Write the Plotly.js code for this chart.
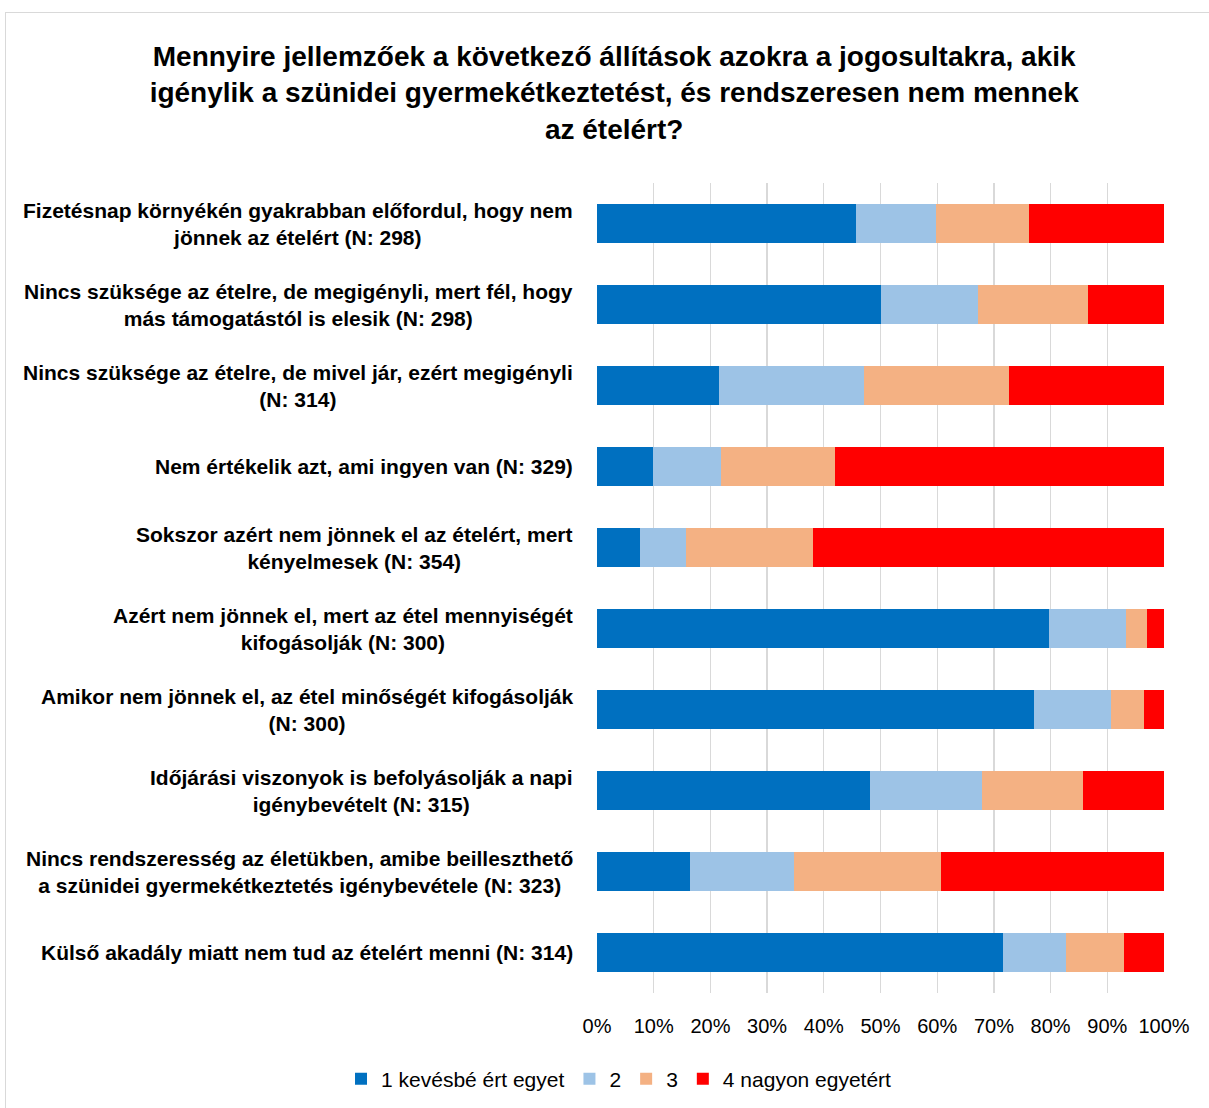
<!DOCTYPE html>
<html>
<head>
<meta charset="utf-8">
<script src="https://cdn.plot.ly/plotly-3.0.1.min.js"></script>
<style>
html,body{margin:0;padding:0;background:#fff;}
#wrap{position:relative;width:1209px;height:1108px;}
#chart{position:absolute;left:0;top:0;width:1209px;height:1108px;}
#frame{position:absolute;left:5px;top:12px;width:1210px;height:1100px;border:1px solid #d9d9d9;pointer-events:none;}
</style>
</head>
<body>
<div id="wrap"><div id="chart"></div><div id="frame"></div></div>
<script>
const categories = [
  "Fizetésnap környékén gyakrabban előfordul, hogy nem<br>jönnek az ételért (N: 298)",
  "Nincs szüksége az ételre, de megigényli, mert fél, hogy<br>más támogatástól is elesik (N: 298)",
  "Nincs szüksége az ételre, de mivel jár, ezért megigényli<br>(N: 314)",
  "Nem értékelik azt, ami ingyen van (N: 329)",
  "Sokszor azért nem jönnek el az ételért, mert<br>kényelmesek (N: 354)",
  "Azért nem jönnek el, mert az étel mennyiségét<br>kifogásolják (N: 300)",
  "Amikor nem jönnek el, az étel minőségét kifogásolják<br>(N: 300)",
  "Időjárási viszonyok is befolyásolják a napi<br>igénybevételt (N: 315)",
  "Nincs rendszeresség az életükben, amibe beilleszthető<br>a szünidei gyermekétkeztetés igénybevétele (N: 323)",
  "Külső akadály miatt nem tud az ételért menni (N: 314)"
];
const seriesNames = ["1 kevésbé ért egyet", "2", "3", "4 nagyon egyetért"];
const s1 = [45.6, 50.0, 21.6, 9.9, 7.6, 79.7, 77.0, 48.2, 16.4, 71.6];
const s2 = [14.2, 17.2, 25.5, 11.9, 8.1, 13.6, 13.7, 19.7, 18.3, 11.2];
const s3 = [16.4, 19.4, 25.5, 20.1, 22.4, 3.7, 5.7, 17.8, 26.0, 10.2];
const s4 = [23.8, 13.4, 27.4, 58.1, 61.9, 3.0, 3.6, 14.3, 39.3, 7.0];
const xTicks = [0, 10, 20, 30, 40, 50, 60, 70, 80, 90, 100];

const colors = ["#0070C0", "#9DC3E6", "#F4B183", "#FF0000"];
const FONT = "'Liberation Sans', Arial, sans-serif";
const series = [s1, s2, s3, s4];

const traces = series.map((vals, i) => ({
  type: "bar",
  orientation: "h",
  name: seriesNames[i],
  x: vals,
  y: categories,
  marker: {color: colors[i], line: {width: 0}},
  hoverinfo: "x+name"
}));

const annotations = categories.map(c => ({
  xref: "paper", yref: "y", x: 0, y: c,
  xanchor: "right", yanchor: "middle", xshift: -22,
  text: "<b>" + c + "</b>", align: "center", showarrow: false,
  font: {family: FONT, size: 21, color: "#000"}
}));

const layout = {
  width: 1209, height: 1108,
  paper_bgcolor: "#fff", plot_bgcolor: "#fff",
  barmode: "stack", bargap: 0.52,
  margin: {l: 597, r: 45, t: 183, b: 115, pad: 0},
  font: {family: FONT, color: "#000"},
  title: {
    text: "<b>Mennyire jellemzőek a következő állítások azokra a jogosultakra, akik<br>igénylik a szünidei gyermekétkeztetést, és rendszeresen nem mennek<br>az ételért?</b>",
    font: {family: FONT, size: 28, color: "#000"},
    x: 0.508, xref: "container", xanchor: "center",
    y: 1 - 66/1108, yref: "container", yanchor: "top"
  },
  xaxis: {
    range: [0, 100], tickvals: xTicks, ticktext: xTicks.map(v => v + "%"),
    showgrid: true, gridcolor: "#d9d9d9", gridwidth: 1.3, zeroline: false,
    showline: false, ticks: "", ticklabelstandoff: 19,
    tickfont: {family: FONT, size: 20, color: "#000"}, fixedrange: true
  },
  yaxis: {
    type: "category", autorange: "reversed", showticklabels: false,
    showgrid: false, zeroline: false, showline: false, ticks: "", fixedrange: true
  },
  showlegend: true,
  legend: {
    orientation: "h", xref: "container", yref: "container",
    x: 0.512, xanchor: "center", y: 1 - 1079/1108, yanchor: "middle",
    font: {family: FONT, size: 21, color: "#000"}, traceorder: "normal",
    itemwidth: 30
  },
  annotations: annotations
};

Plotly.newPlot("chart", traces, layout, {displayModeBar: false, staticPlot: true});
</script>
</body>
</html>
